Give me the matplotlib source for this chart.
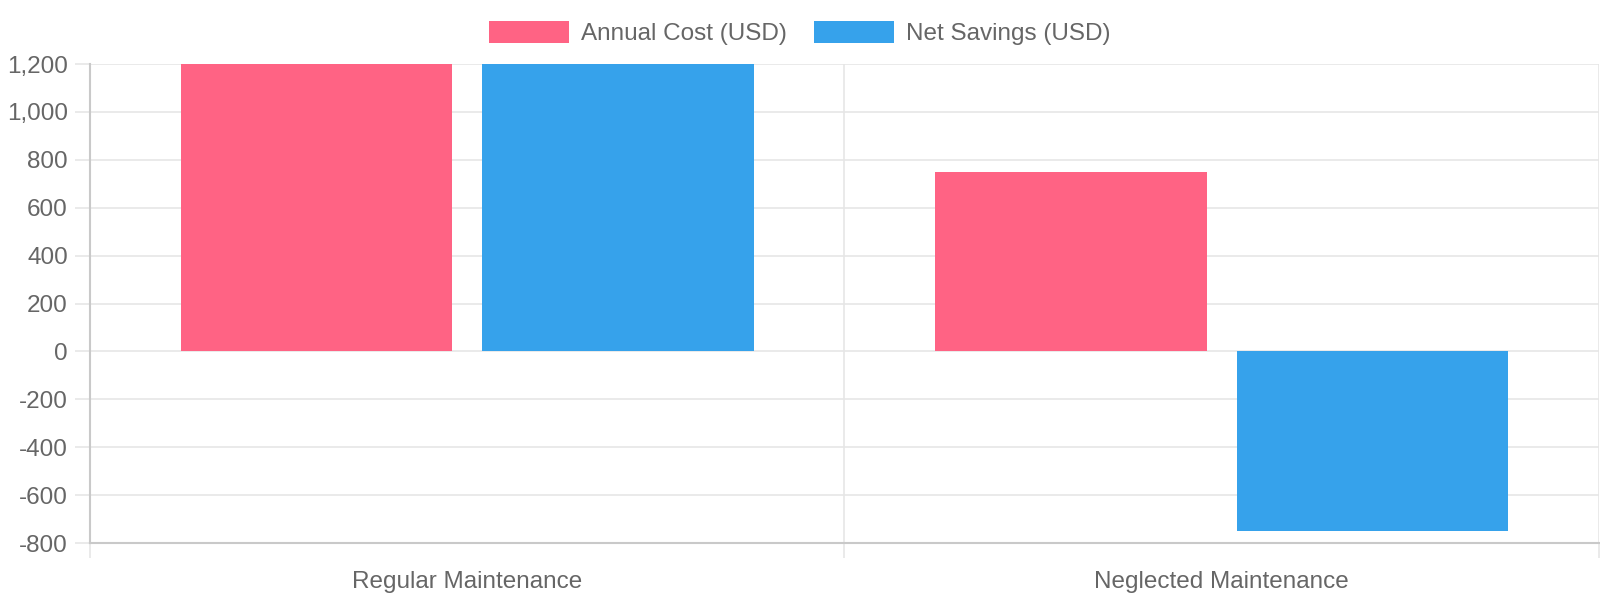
import numpy as np
import matplotlib.pyplot as plt
from matplotlib.ticker import FuncFormatter, FixedLocator

plt.rcParams['font.family'] = ['Liberation Sans', 'DejaVu Sans']

categories = ['Regular Maintenance', 'Neglected Maintenance']
annual_cost = [1200, 750]
net_savings = [1200, -750]
series_names = ['Annual Cost (USD)', 'Net Savings (USD)']
colors = ['#FF6384', '#36A2EB']

grid_c = '#e6e6e6'
axis_c = '#c9c9c9'
text_c = '#666666'

fig = plt.figure(figsize=(16, 6), dpi=100)
ax = fig.add_axes([0.05625, 0.095, 0.9431, 0.7983])

x = np.arange(len(categories))
w = 0.36
ax.bar(x - 0.2, annual_cost, w, color=colors[0], label=series_names[0], zorder=3)
ax.bar(x + 0.2, net_savings, w, color=colors[1], label=series_names[1], zorder=3)

ax.set_xlim(-0.5, len(categories) - 0.5)
ax.set_ylim(-800, 1200)
ax.set_yticks(np.arange(-800, 1201, 200))
ax.yaxis.set_major_formatter(FuncFormatter(lambda v, p: f'{int(v):,}'))

ax.set_xticks(x)
ax.set_xticklabels(categories)
ax.xaxis.set_minor_locator(FixedLocator(np.arange(-0.5, len(categories), 1.0)))

ax.tick_params(axis='x', which='major', length=0, pad=20, labelsize=17.5, labelcolor=text_c)
ax.tick_params(axis='x', which='minor', length=11, width=1.2, color=grid_c)
ax.tick_params(axis='y', length=11, width=1.2, color=grid_c, pad=5, labelsize=17.5, labelcolor=text_c)

ax.grid(True, axis='y', color=grid_c, linewidth=1.2, zorder=0)
ax.grid(True, axis='x', which='minor', color=grid_c, linewidth=1.2, zorder=0)
ax.grid(False, axis='x', which='major')

for s in ['top', 'right']:
    ax.spines[s].set_visible(False)
for s in ['left', 'bottom']:
    ax.spines[s].set_color(axis_c)
    ax.spines[s].set_linewidth(1.5)

handles, labels = ax.get_legend_handles_labels()
fig.legend(handles, labels, loc='center', bbox_to_anchor=(0.5, 0.945), ncol=2,
           frameon=False, fontsize=17.5, labelcolor=text_c, handlelength=3.3,
           handleheight=1.05, handletextpad=0.5, columnspacing=1.1)

fig.savefig('out.png', dpi=100)
